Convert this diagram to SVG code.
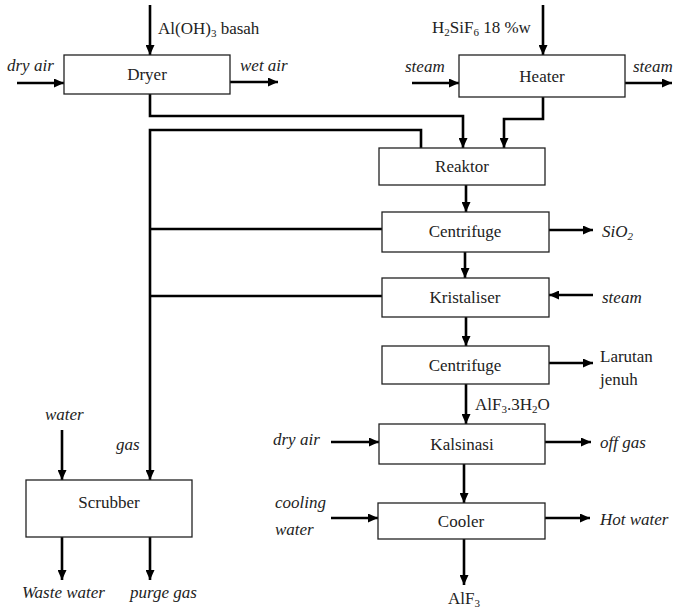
<svg xmlns="http://www.w3.org/2000/svg" width="674" height="608" viewBox="0 0 674 608">
<style>
.box{fill:#fff;stroke:#222;stroke-width:1.3}
text{font-family:'Liberation Serif','Times New Roman',serif;font-size:17px;fill:#222}
.it{font-style:italic}
.c{text-anchor:middle}
.ln{fill:none;stroke:#000;stroke-width:2.6}
.ar{marker-end:url(#ah)}
</style>
<defs>
<marker id="ah" markerUnits="userSpaceOnUse" markerWidth="10" markerHeight="9" refX="10" refY="4.5" orient="auto">
<path d="M0,0 L10,4.5 L0,9 z" fill="#000"/>
</marker>
</defs>
<rect width="674" height="608" fill="#fff"/>
<g id="connectors">
<path class="ln ar" d="M150,5 V55"/>
<path class="ln ar" d="M17,83 H64"/>
<path class="ln ar" d="M230,82 H278"/>
<path class="ln ar" d="M150,94 V116 H463 V148"/>
<path class="ln ar" d="M421,148 V130 H150 V480"/>
<path class="ln" d="M382,229 H150"/>
<path class="ln" d="M382,296 H150"/>
<path class="ln ar" d="M543,5 V55"/>
<path class="ln ar" d="M412,83 H459"/>
<path class="ln ar" d="M625,83 H672"/>
<path class="ln ar" d="M543,97 V119 H504 V148"/>
<path class="ln ar" d="M466,185 V212"/>
<path class="ln ar" d="M549,230 H593"/>
<path class="ln ar" d="M465,252 V278"/>
<path class="ln ar" d="M593,295 H549"/>
<path class="ln ar" d="M466,317 V346"/>
<path class="ln ar" d="M549,363 H593"/>
<path class="ln ar" d="M466,384 V424"/>
<path class="ln ar" d="M331,442 H379"/>
<path class="ln ar" d="M545,442 H591"/>
<path class="ln ar" d="M464,464 V503"/>
<path class="ln ar" d="M331,518 H378"/>
<path class="ln ar" d="M545,518 H590"/>
<path class="ln ar" d="M464,539 V585"/>
<path class="ln ar" d="M62,430 V480"/>
<path class="ln ar" d="M62,537 V580"/>
<path class="ln ar" d="M150,537 V580"/>
</g>
<g id="dryer">
<rect class="box" x="64" y="55" width="166" height="39"/>
<text class="c" x="147" y="80">Dryer</text>
</g>
<g id="heater">
<rect class="box" x="459" y="55" width="166" height="42"/>
<text class="c" x="542" y="82">Heater</text>
</g>
<g id="reaktor">
<rect class="box" x="379" y="148" width="166" height="37"/>
<text class="c" x="462" y="172">Reaktor</text>
</g>
<g id="centrifuge1">
<rect class="box" x="382" y="212" width="167" height="40"/>
<text class="c" x="465" y="237">Centrifuge</text>
</g>
<g id="kristaliser">
<rect class="box" x="382" y="278" width="167" height="39"/>
<text class="c" x="465" y="303">Kristaliser</text>
</g>
<g id="centrifuge2">
<rect class="box" x="382" y="346" width="167" height="38"/>
<text class="c" x="465" y="371">Centrifuge</text>
</g>
<g id="kalsinasi">
<rect class="box" x="379" y="424" width="166" height="40"/>
<text class="c" x="462" y="450">Kalsinasi</text>
</g>
<g id="cooler">
<rect class="box" x="378" y="503" width="167" height="36"/>
<text class="c" x="461" y="527">Cooler</text>
</g>
<g id="scrubber">
<rect class="box" x="26" y="480" width="166" height="57"/>
<text class="c" x="109" y="508">Scrubber</text>
</g>
<g id="labels">
<text x="158" y="34">Al(OH)<tspan font-size="11" dy="3">3</tspan><tspan dy="-3"> basah</tspan></text>
<text class="it" x="7" y="71">dry air</text>
<text class="it" x="240" y="71">wet air</text>
<text x="432" y="33">H<tspan font-size="11" dy="3">2</tspan><tspan dy="-3">SiF</tspan><tspan font-size="11" dy="3">6</tspan><tspan dy="-3"> 18 %w</tspan></text>
<text class="it" x="405" y="72">steam</text>
<text class="it" x="633" y="72">steam</text>
<text class="it" x="602" y="237">SiO<tspan font-size="11" dy="3">2</tspan></text>
<text class="it" x="602" y="303">steam</text>
<text x="600" y="362">Larutan</text>
<text x="600" y="385">jenuh</text>
<text x="475" y="410">AlF<tspan font-size="11" dy="3">3</tspan><tspan dy="-3">.3H</tspan><tspan font-size="11" dy="3">2</tspan><tspan dy="-3">O</tspan></text>
<text class="it" x="273" y="445">dry air</text>
<text class="it" x="600" y="448">off gas</text>
<text class="it" x="275" y="508">cooling</text>
<text class="it" x="275" y="535">water</text>
<text class="it" x="600" y="525">Hot water</text>
<text class="c" x="464" y="604">AlF<tspan font-size="11" dy="3">3</tspan></text>
<text class="it" x="45" y="420">water</text>
<text class="it" x="116" y="450">gas</text>
<text class="it" x="22" y="598">Waste water</text>
<text class="it" x="130" y="598">purge gas</text>
</g>
</svg>
